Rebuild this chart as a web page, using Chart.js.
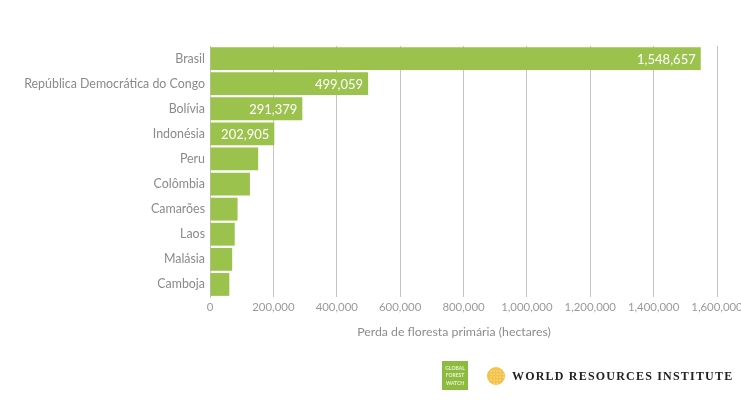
<!DOCTYPE html>
<html>
<head>
<meta charset="utf-8">
<script src="https://cdn.jsdelivr.net/npm/chart.js@4.4.1/dist/chart.umd.min.js"></script>
<style>
  html, body { margin: 0; padding: 0; background: #ffffff; overflow: hidden; }
  #wrap { width: 760px; height: 404px; }
</style>
</head>
<body>
<div id="wrap"><canvas id="c" width="760" height="404"></canvas></div>
<script>
const categories = ['Brasil', 'República Democrática do Congo', 'Bolívia', 'Indonésia', 'Peru', 'Colômbia', 'Camarões', 'Laos', 'Malásia', 'Camboja'];
const primaryForestLoss = [1548657, 499059, 291379, 202905, 152000, 126000, 87000, 78000, 70000, 61000];
const valueLabels = ['1,548,657', '499,059', '291,379', '202,905', '', '', '', '', '', ''];
const xTickValues = [0, 200000, 400000, 600000, 800000, 1000000, 1200000, 1400000, 1600000];
const axisTitle = 'Perda de floresta primária (hectares)';
const gfwLines = ['GLOBAL', 'FOREST', 'WATCH'];
const wriName = 'WORLD RESOURCES INSTITUTE';

const FONT = 'Lato, "Open Sans", sans-serif';
const GREEN = '#9ac24d';

const extrasPlugin = {
  id: 'extras',
  afterDatasetsDraw(chart) {
    const ctx = chart.ctx;
    const meta = chart.getDatasetMeta(0);
    ctx.save();
    ctx.fillStyle = '#ffffff';
    ctx.font = '13px ' + FONT;
    ctx.textAlign = 'right';
    ctx.textBaseline = 'middle';
    meta.data.forEach((bar, i) => {
      if (valueLabels[i]) ctx.fillText(valueLabels[i], bar.x - 5, bar.y + 1);
    });
    ctx.restore();
  },
  afterDraw(chart) {
    const ctx = chart.ctx;
    ctx.save();
    // axis title
    ctx.fillStyle = '#8c8c8c';
    ctx.font = '12.3px ' + FONT;
    ctx.textAlign = 'center';
    ctx.textBaseline = 'middle';
    ctx.fillText(axisTitle, 454, 332);
    // GFW logo box
    ctx.fillStyle = '#8dbb3f';
    ctx.fillRect(442, 361, 26, 29);
    ctx.fillStyle = '#e8f2d6';
    ctx.font = 'bold 5px ' + FONT;
    ctx.textAlign = 'center';
    gfwLines.forEach((t, i) => ctx.fillText(t, 455, 368 + i * 7.5));
    // WRI emblem
    const cx = 496, cy = 376;
    ctx.fillStyle = '#f3c24a';
    ctx.beginPath(); ctx.arc(cx, cy, 9, 0, Math.PI * 2); ctx.fill();
    ctx.fillStyle = '#fbe3a0';
    for (let dx = -8; dx <= 8; dx += 3) {
      for (let dy = -8; dy <= 8; dy += 3) {
        if (dx * dx + dy * dy < 64) { ctx.fillRect(cx + dx - 0.5, cy + dy - 0.5, 1.2, 1.2); }
      }
    }
    // WRI name
    ctx.fillStyle = '#222222';
    ctx.font = 'bold 12px "Liberation Serif", "DejaVu Serif", serif';
    ctx.textAlign = 'left';
    try { ctx.letterSpacing = '1.2px'; } catch (e) {}
    ctx.fillText(wriName, 512, 377);
    ctx.restore();
  }
};

new Chart(document.getElementById('c'), {
  type: 'bar',
  data: {
    labels: categories,
    datasets: [{
      data: primaryForestLoss,
      backgroundColor: GREEN,
      borderWidth: 0,
      categoryPercentage: 1.0,
      barPercentage: 0.91
    }]
  },
  options: {
    indexAxis: 'y',
    responsive: false,
    animation: false,
    devicePixelRatio: 1,
    layout: { padding: { top: 46, right: 43, left: 0, bottom: 0 } },
    plugins: { legend: { display: false }, tooltip: { enabled: false } },
    scales: {
      x: {
        min: 0,
        max: 1600000,
        afterBuildTicks(scale) { scale.ticks = xTickValues.map(v => ({ value: v })); },
        afterFit(scale) { scale.height = 107; },
        grid: { color: '#c4c4c4', lineWidth: 1, drawTicks: false },
        border: { display: false },
        ticks: {
          color: '#9a9a9a',
          font: { family: FONT, size: 11.4 },
          padding: 3,
          maxRotation: 0,
          callback: (v) => Number(v).toLocaleString('en-US')
        }
      },
      y: {
        afterFit(scale) { scale.width = 210; },
        grid: { display: false, drawTicks: false },
        border: { display: true, color: '#c4c4c4', width: 1 },
        ticks: {
          color: '#8a8a8a',
          font: { family: FONT, size: 12.4 },
          padding: 5
        }
      }
    }
  },
  plugins: [extrasPlugin]
});
</script>
</body>
</html>
